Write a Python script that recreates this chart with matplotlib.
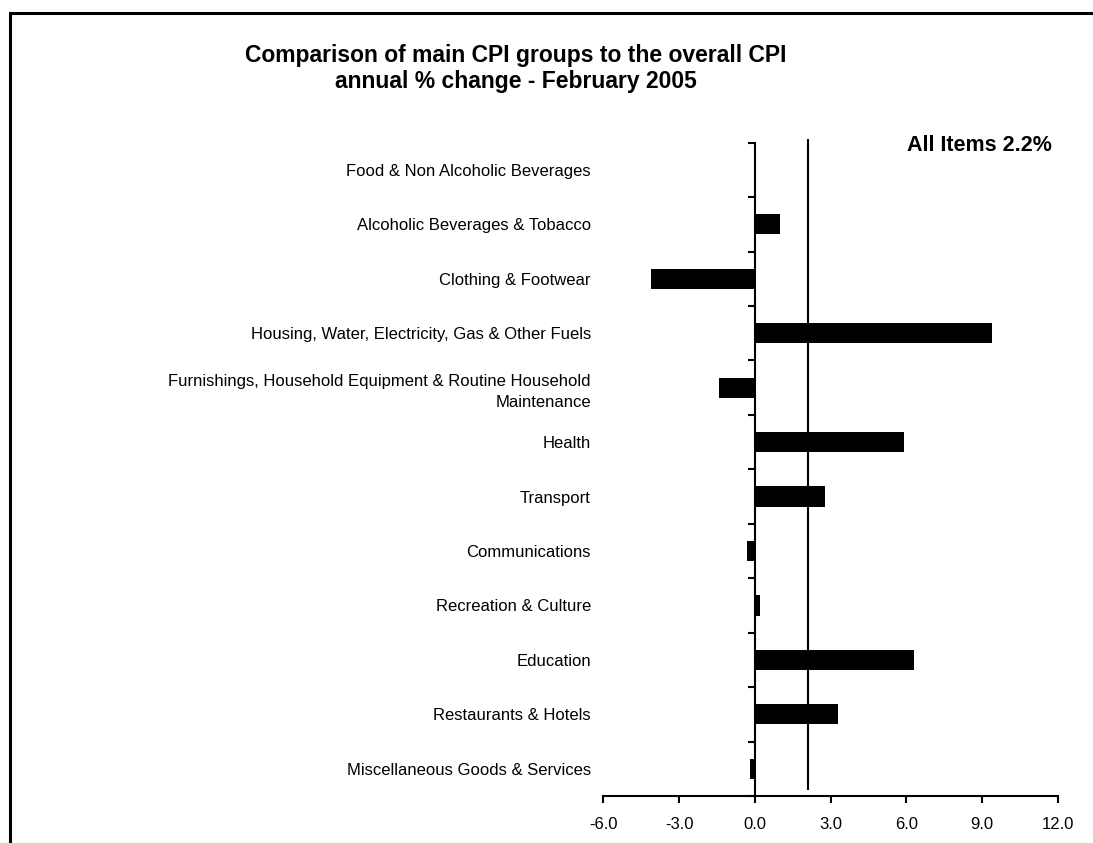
import numpy as np
import matplotlib
matplotlib.use("Agg")
import matplotlib.pyplot as plt
from matplotlib.patches import Rectangle

plt.rcParams["font.family"] = ["Liberation Sans", "DejaVu Sans"]

# CPI groups, annual % change - February 2005
groups = [
    "Food & Non Alcoholic Beverages",
    "Alcoholic Beverages & Tobacco",
    "Clothing & Footwear",
    "Housing, Water, Electricity, Gas & Other Fuels",
    "Furnishings, Household Equipment & Routine Household\nMaintenance",
    "Health",
    "Transport",
    "Communications",
    "Recreation & Culture",
    "Education",
    "Restaurants & Hotels",
    "Miscellaneous Goods & Services",
]
changes = [0.0, 1.0, -4.1, 9.4, -1.4, 5.9, 2.8, -0.3, 0.2, 6.3, 3.3, -0.2]
all_items = 2.2
all_items_line = 2.1  # line sits a touch left of 2.2 in the original
x_ticks = [-6.0, -3.0, 0.0, 3.0, 6.0, 9.0, 12.0]

fig = plt.figure(figsize=(10.93, 8.43), dpi=100)
ax = fig.add_axes([0.552, 0.0558, 0.4157, 0.7749])

ypos = np.arange(len(groups))
ax.barh(ypos, changes, height=0.37, color="black", zorder=3)
ax.set_ylim(len(groups) - 0.5, -0.5)
ax.set_xlim(x_ticks[0], x_ticks[-1])

# overall CPI line
ax.vlines(all_items_line, -0.56, len(groups) - 0.61, color="black", lw=1.5,
          clip_on=False, zorder=2)
ax.text(0.988, 0.995, f"All Items {all_items}%", transform=ax.transAxes,
        ha="right", va="center", fontsize=15.5, fontweight="bold")

# x axis
ax.set_xticks(x_ticks)
ax.set_xticklabels([f"{t:.1f}" for t in x_ticks], fontsize=12)
ax.tick_params(axis="x", direction="out", length=5, width=1.5, pad=10)
ax.spines["bottom"].set_linewidth(1.5)
for s in ["top", "right", "left"]:
    ax.spines[s].set_visible(False)

# category labels, no tick marks
ax.set_yticks(ypos)
ax.set_yticklabels(groups, fontsize=12, linespacing=1.45)
ax.tick_params(axis="y", length=0, pad=9)

# vertical axis at zero with ticks between categories
zero_at = (0 - x_ticks[0]) / (x_ticks[-1] - x_ticks[0])
sec = ax.secondary_yaxis(zero_at)
sec.set_yticks(np.arange(len(groups) + 1) - 0.5)
sec.set_yticklabels([])
sec.tick_params(direction="out", length=5, width=1.5)
sec.spines["left"].set_linewidth(1.5)

fig.text(0.472, 0.9187, "Comparison of main CPI groups to the overall CPI\nannual % change - February 2005",
         ha="center", va="center", fontsize=16.5, fontweight="bold", linespacing=1.2)

# chart border (only top/left edges fall inside the image)
fig.patches.append(Rectangle((10 / 1093, -0.1), 1.2, 0.1 + 1 - 13 / 843,
                             transform=fig.transFigure, fill=False,
                             edgecolor="black", lw=2.2))

fig.savefig("out.png", dpi=100)
